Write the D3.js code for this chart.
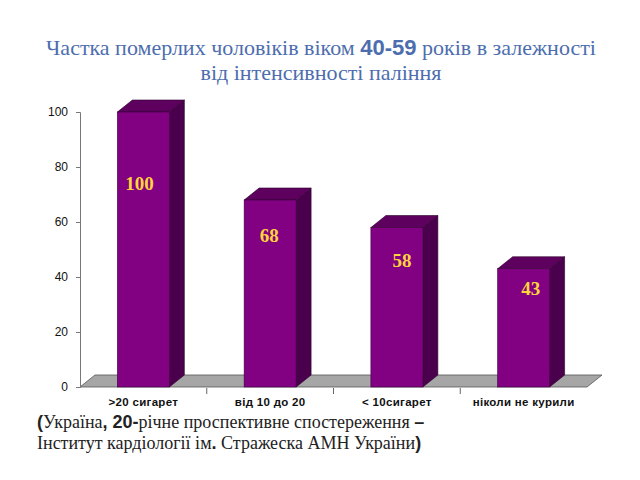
<!DOCTYPE html>
<html><head><meta charset="utf-8">
<script src="https://cdn.jsdelivr.net/npm/d3@7"></script>
<style>
html,body{margin:0;padding:0;background:#fff;}
svg{display:block;}
</style></head>
<body>
<svg id="c" width="640" height="480"></svg>
<script>
const categories = [">20 сигарет", "від 10 до 20", "< 10сигарет", "ніколи не курили"];
const values = [100, 68, 58, 43];
const yTicks = [0, 20, 40, 60, 80, 100];
const titleLine1 = ["Частка померлих чоловіків віком ", "40-59", " років в залежності"];
const titleLine2 = "від інтенсивності паління";

const serif = "'Liberation Serif', 'DejaVu Serif', serif";
const sans = "'Liberation Sans', Arial, sans-serif";

const svg = d3.select("#c");
const x = d3.scaleBand().domain(categories).range([80, 587]).padding(0);
const y = d3.scaleLinear().domain([0, 100]).range([387, 112]);
const depthX = 15, depthY = -12;
const barW = x.bandwidth() * 0.41;

// title
const t1 = svg.append("text").attr("x", 321).attr("y", 55).attr("text-anchor", "middle")
  .attr("fill", "#4d6eae").attr("font-family", serif).attr("font-size", 22);
t1.append("tspan").text(titleLine1[0]);
t1.append("tspan").text(titleLine1[1]).attr("font-family", sans).attr("font-weight", "bold");
t1.append("tspan").text(titleLine1[2]);
svg.append("text").attr("x", 321).attr("y", 80).attr("text-anchor", "middle")
  .attr("fill", "#4d6eae").attr("font-family", serif).attr("font-size", 22)
  .text(titleLine2);

// floor
const x0 = x.range()[0], x1 = x.range()[1], yb = y(0);
svg.append("path")
  .attr("d", `M${x0},${yb} L${x0 + depthX},${yb + depthY} L${x1 + depthX},${yb + depthY} L${x1},${yb} Z`)
  .attr("fill", "#a6a6a6").attr("stroke", "#555").attr("stroke-width", 0.8);

// category ticks
svg.append("g").selectAll("line").data(categories.slice(1)).join("line")
  .attr("x1", d => x(d)).attr("x2", d => x(d)).attr("y1", yb + 1).attr("y2", yb + 7)
  .attr("stroke", "#666").attr("stroke-width", 1);

// y axis
const ya = svg.append("g").attr("transform", `translate(${x0},0)`)
  .call(d3.axisLeft(y).tickValues(yTicks).tickSize(4).tickPadding(8));
ya.select(".domain").attr("stroke", "#777");
ya.selectAll(".tick line").attr("stroke", "#777");
ya.selectAll(".tick text").attr("fill", "#111").attr("font-family", sans).attr("font-size", 12);

// bars
const bars = svg.append("g").selectAll("g").data(values.map((v, i) => ({v, c: categories[i], i}))).join("g");
bars.each(function(d) {
  const g = d3.select(this);
  const cx = x(d.c) + x.bandwidth() / 2;
  const l = cx - barW / 2, r = cx + barW / 2, top = y(d.v);
  g.append("path").attr("d", `M${r},${yb} L${r + depthX},${yb + depthY} L${r + depthX},${top + depthY} L${r},${top} Z`)
    .attr("fill", "#4a004c").attr("stroke", "#2a002a").attr("stroke-width", 0.6);
  g.append("path").attr("d", `M${l},${top} L${l + depthX},${top + depthY} L${r + depthX},${top + depthY} L${r},${top} Z`)
    .attr("fill", "#5e005e").attr("stroke", "#2a002a").attr("stroke-width", 0.6);
  g.append("rect").attr("x", l).attr("y", top).attr("width", barW).attr("height", yb - top)
    .attr("fill", "#820082").attr("stroke", "#3a003a").attr("stroke-width", 0.6);
});

// value labels
const labelDx = [-4, -1, 5, 7];
const labelDy = [78, 42, 39, 26];
svg.append("g").selectAll("text").data(values).join("text")
  .attr("x", (d, i) => x(categories[i]) + x.bandwidth() / 2 + labelDx[i])
  .attr("y", (d, i) => y(d) + labelDy[i])
  .attr("text-anchor", "middle").attr("fill", "#ffd43c")
  .attr("font-family", serif).attr("font-weight", "bold").attr("font-size", 19)
  .text(d => d);

// category labels
svg.append("g").selectAll("text").data(categories).join("text")
  .attr("x", d => x(d) + x.bandwidth() / 2).attr("y", 406)
  .attr("text-anchor", "middle").attr("fill", "#111")
  .attr("font-family", sans).attr("font-weight", "bold").attr("font-size", 11.5)
  .attr("letter-spacing", 0.3)
  .text(d => d);

// footnote
function rich(yPos, parts) {
  const t = svg.append("text").attr("x", 37).attr("y", yPos).attr("fill", "#222").attr("font-size", 18);
  parts.forEach(p => t.append("tspan").text(p[0]).attr("font-family", p[1] ? sans : serif).attr("font-weight", p[1] ? "bold" : "normal"));
}
rich(428, [["(", 1], ["Україна", 0], [", 20-", 1], ["річне проспективне спостереження ", 0], ["–", 1]]);
rich(449, [["Інститут кардіології ім", 0], [".", 1], [" Стражеска АМН України", 0], [")", 1]]);
</script>
</body></html>
